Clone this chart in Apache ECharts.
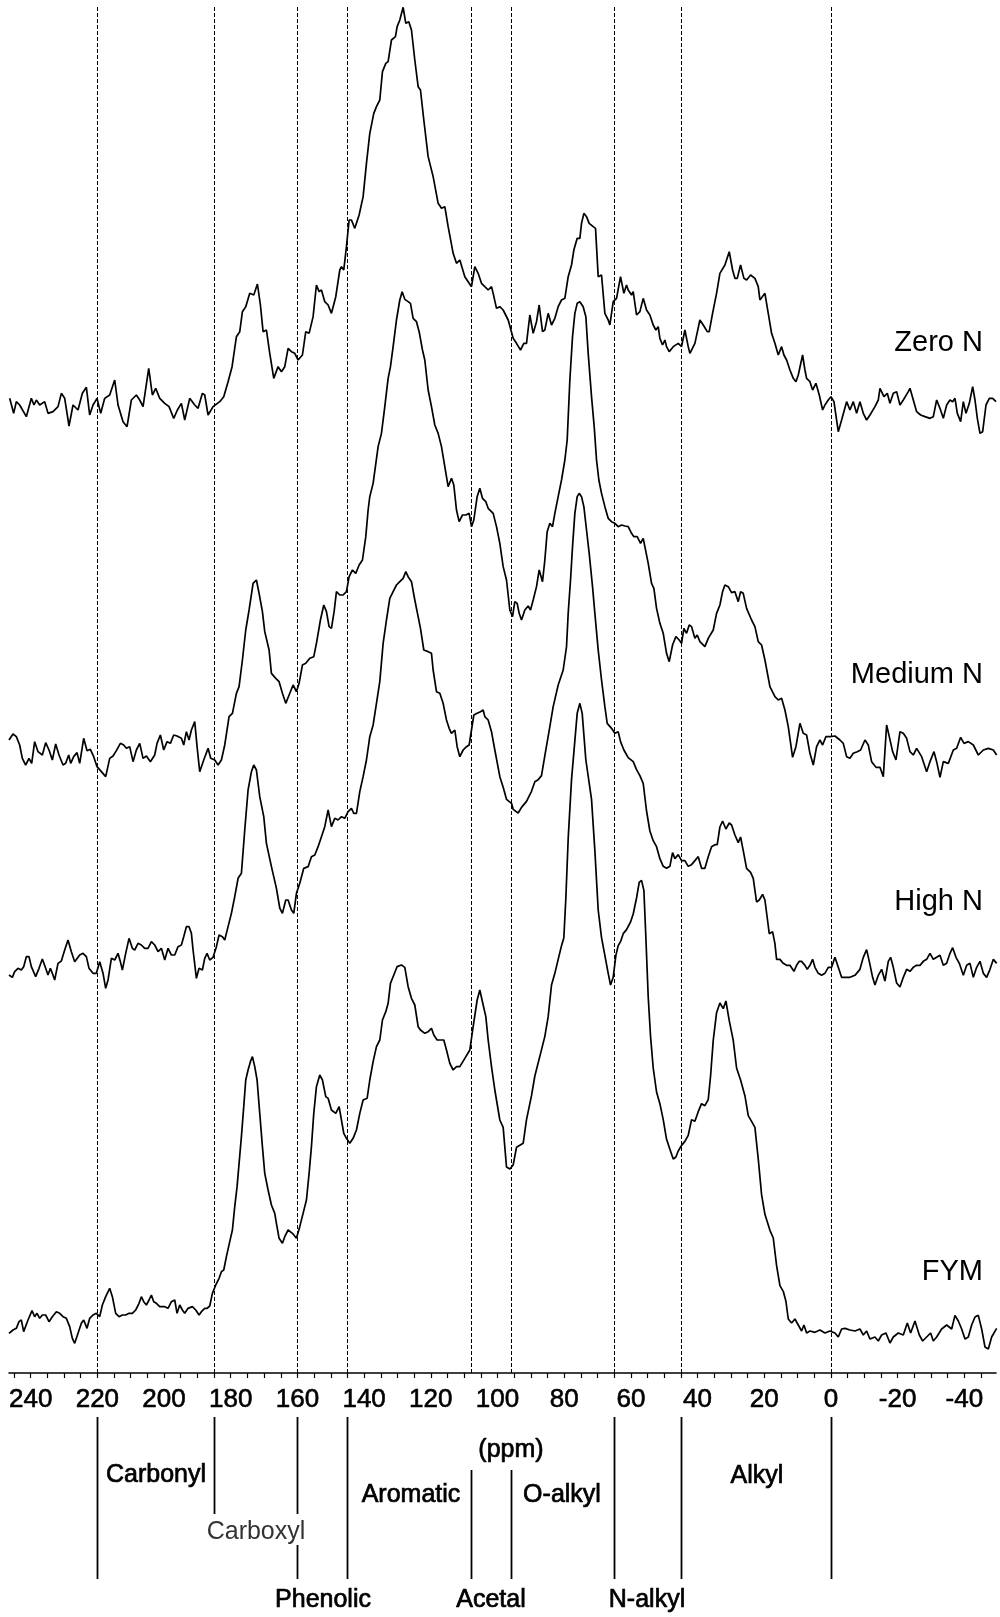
<!DOCTYPE html>
<html><head><meta charset="utf-8">
<script src="https://cdn.jsdelivr.net/npm/echarts@6.0.0/dist/echarts.min.js"></script>
<style>html,body{margin:0;padding:0;background:#fff}#c{width:1000px;height:1617px}</style>
</head><body><div id="c"></div>
<script>
// ---------------- DATA (chemical shift ppm, relative intensity) ----------------
const seriesNames = ['Zero N', 'Medium N', 'High N', 'FYM'];

const zeroN = [[246.3,8],[245.1,-37],[244.3,-2],[243.3,-12],[241.3,-47],[239.8,8],[239.0,-12],[238.3,3],[237.3,-12],[235.8,-2],[234.8,-37],[233.3,-32],[231.8,-17],[230.8,23],[229.8,8],[228.5,-75],[227.3,-12],[225.8,-27],[224.5,23],[223.3,41],[222.3,-42],[221.3,-12],[220.1,8],[219.0,-37],[217.8,8],[216.3,18],[214.8,63],[213.8,-12],[212.3,-62],[211.1,-77],[209.8,3],[208.3,18],[207.3,3],[206.3,-17],[204.6,98],[203.5,18],[202.5,38],[201.3,8],[199.8,-7],[198.5,-17],[197.1,-52],[196.0,-27],[194.8,-7],[193.8,-57],[192.3,8],[190.8,-12],[189.8,-22],[188.5,23],[187.8,18],[186.8,-42],[185.3,-17],[183.3,-2],[182.1,13],[180.8,58],[179.6,103],[178.3,193],[177.3,208],[176.5,268],[175.5,283],[174.3,323],[173.1,318],[172.0,351],[171.1,288],[170.3,208],[169.3,213],[168.3,143],[167.1,68],[165.8,103],[164.8,88],[163.8,103],[162.8,158],[161.8,148],[160.8,143],[159.8,123],[158.5,138],[157.5,208],[156.5,203],[155.3,253],[154.3,348],[153.5,328],[152.8,333],[151.8,298],[150.8,288],[149.8,263],[148.5,313],[147.3,393],[146.8,403],[146.1,393],[145.3,463],[144.5,543],[143.8,543],[142.8,518],[141.5,558],[140.3,613],[139.3,713],[138.3,803],[137.1,863],[136.3,883],[135.3,903],[134.5,988],[133.5,1013],[132.8,1018],[131.8,1083],[130.6,1093],[130.1,1123],[129.3,1143],[128.3,1181],[127.5,1133],[126.6,1138],[125.8,1113],[124.8,1023],[123.8,943],[123.1,933],[122.1,843],[120.8,733],[119.3,673],[117.8,593],[116.8,578],[115.8,583],[114.8,523],[113.3,443],[112.3,413],[111.3,423],[109.8,373],[107.8,343],[106.8,403],[105.8,383],[104.8,353],[103.8,343],[102.8,333],[101.8,343],[101.3,323],[100.3,278],[99.3,283],[98.3,273],[96.8,243],[95.3,188],[94.3,173],[93.1,153],[92.1,173],[91.3,173],[90.3,258],[89.3,203],[88.3,238],[87.5,288],[86.5,208],[85.8,213],[84.8,263],[83.8,228],[82.8,248],[81.8,283],[80.8,303],[79.8,308],[78.8,373],[77.8,408],[77.1,453],[76.1,488],[75.3,488],[74.8,533],[74.1,563],[73.3,553],[72.5,533],[71.3,523],[70.6,518],[69.8,373],[68.8,378],[67.8,263],[66.8,243],[66.3,228],[65.3,298],[64.3,308],[63.1,373],[62.1,323],[61.3,348],[60.8,333],[59.8,318],[59.3,328],[58.3,258],[57.3,268],[56.3,308],[55.3,273],[54.3,258],[53.3,228],[52.5,213],[51.8,223],[51.3,188],[50.5,168],[49.8,183],[49.3,163],[48.5,148],[47.3,163],[45.8,173],[44.8,163],[43.8,213],[42.8,163],[42.3,143],[40.8,173],[39.3,243],[38.3,228],[37.1,208],[36.5,208],[35.5,263],[34.3,323],[33.3,383],[31.8,408],[30.5,448],[29.5,393],[28.8,368],[28.1,368],[27.1,408],[26.1,368],[25.3,363],[24.1,378],[22.8,368],[21.8,343],[21.3,303],[19.8,323],[18.8,263],[17.8,203],[16.8,173],[15.8,138],[14.8,163],[14.1,138],[13.3,123],[12.3,93],[11.3,68],[10.5,58],[9.8,78],[8.5,138],[7.8,93],[7.3,68],[6.3,58],[5.5,33],[4.5,53],[3.5,18],[2.5,-27],[1.8,-12],[0.8,3],[0.0,13],[-0.9,-2],[-2.2,-92],[-3.2,-57],[-4.7,-2],[-5.7,-27],[-6.7,-2],[-7.7,-37],[-8.7,-2],[-9.7,-37],[-10.7,-57],[-11.7,-42],[-13.2,-17],[-14.2,3],[-14.7,38],[-15.9,13],[-16.9,23],[-17.7,-7],[-18.7,23],[-19.7,28],[-20.7,-12],[-21.7,3],[-23.2,28],[-23.7,38],[-24.7,3],[-25.7,-32],[-26.9,-42],[-28.2,-47],[-29.7,-52],[-30.7,-47],[-31.7,3],[-32.7,-22],[-33.7,-52],[-34.7,-12],[-35.7,3],[-36.5,-2],[-37.2,8],[-37.9,-37],[-38.9,-62],[-39.7,-2],[-40.5,-37],[-41.5,-7],[-42.5,43],[-43.2,3],[-43.9,-52],[-44.7,-97],[-45.5,-92],[-46.5,-12],[-47.5,8],[-48.5,8],[-49.5,-2]];

const mediumN = [[246.5,24],[245.3,42],[244.3,34],[243.3,9],[242.5,-31],[241.5,-51],[240.5,-31],[239.7,-46],[238.8,19],[237.8,-11],[237.3,-6],[236.5,-21],[235.5,16],[234.5,-6],[233.5,-36],[232.5,12],[231.5,-21],[230.3,-51],[229.5,-46],[228.6,-21],[228.0,-46],[227.1,-26],[226.1,-14],[225.3,-46],[224.1,29],[223.1,-8],[222.1,-4],[221.1,-26],[220.1,-56],[218.8,-71],[217.5,-86],[216.3,-31],[215.3,-24],[214.3,-8],[213.1,14],[212.1,9],[211.3,-1],[210.3,4],[209.3,-41],[208.3,-6],[207.3,14],[206.3,-31],[205.3,-24],[204.1,-41],[202.8,-21],[202.1,14],[201.1,39],[200.1,-6],[199.1,19],[198.1,14],[197.1,39],[196.1,36],[194.8,29],[194.1,9],[193.3,49],[192.5,24],[191.8,54],[190.8,79],[190.1,4],[189.3,-71],[188.1,-36],[186.8,-1],[186.0,-31],[184.8,-36],[183.8,-51],[182.8,-36],[181.8,9],[180.5,94],[179.5,104],[178.3,164],[177.5,184],[176.5,264],[175.5,354],[174.5,414],[173.3,494],[172.3,504],[171.5,464],[170.5,409],[169.8,349],[168.5,294],[167.8,224],[166.5,209],[165.5,199],[164.5,164],[163.5,134],[162.5,159],[161.3,189],[160.3,169],[159.5,194],[158.5,249],[157.5,254],[156.3,269],[155.1,274],[154.3,314],[153.1,384],[152.1,429],[151.3,409],[150.5,364],[149.8,359],[149.0,409],[148.3,469],[147.3,459],[146.3,459],[145.3,469],[144.5,514],[143.5,534],[142.5,524],[141.5,549],[140.5,564],[139.5,634],[138.8,714],[138.3,754],[137.3,794],[135.8,904],[134.8,944],[133.8,1024],[132.8,1109],[132.1,1144],[131.3,1204],[130.3,1284],[129.3,1344],[128.6,1369],[127.8,1346],[126.8,1339],[126.1,1334],[125.3,1289],[124.3,1279],[123.5,1249],[122.5,1194],[121.8,1164],[120.8,1074],[119.8,1024],[118.8,969],[117.8,944],[116.8,904],[116.3,874],[115.3,814],[114.8,784],[113.8,809],[113.1,789],[112.3,714],[111.5,679],[110.5,699],[109.5,699],[108.5,704],[107.8,664],[107.1,684],[106.1,754],[105.3,779],[104.5,749],[103.5,739],[102.8,719],[101.3,704],[100.3,664],[99.3,614],[98.3,544],[97.3,504],[96.3,414],[95.5,394],[94.8,439],[94.1,434],[93.5,404],[92.8,384],[91.8,414],[90.8,426],[90.1,414],[89.3,444],[88.3,484],[87.5,534],[86.5,499],[85.8,564],[85.1,649],[84.3,674],[83.5,664],[82.8,704],[81.8,754],[80.8,804],[79.8,864],[79.1,924],[78.3,1104],[77.5,1234],[76.8,1304],[76.1,1334],[75.3,1339],[74.3,1324],[73.5,1294],[72.8,1184],[71.8,1054],[71.0,964],[70.3,864],[69.6,804],[68.8,764],[67.8,724],[66.8,689],[65.8,679],[64.8,674],[63.8,664],[62.8,669],[61.8,666],[60.8,664],[59.8,644],[59.1,634],[58.1,634],[57.1,614],[56.3,629],[55.8,604],[54.8,554],[53.8,494],[53.1,479],[52.3,419],[51.3,374],[50.3,344],[49.3,284],[48.5,259],[47.5,309],[46.5,334],[45.5,324],[44.8,314],[44.1,359],[43.3,344],[42.5,369],[41.8,364],[40.8,329],[40.1,339],[39.3,319],[38.8,324],[37.8,304],[36.8,329],[35.3,354],[34.3,404],[33.3,429],[32.5,469],[31.8,489],[30.8,484],[29.8,466],[28.8,469],[27.8,439],[27.1,469],[26.3,464],[25.3,419],[23.8,384],[22.8,364],[21.8,319],[20.8,309],[19.8,264],[18.3,184],[16.8,154],[15.8,144],[14.8,149],[13.8,114],[12.8,64],[11.5,-28],[10.5,4],[9.3,74],[8.3,44],[7.3,39],[6.3,-16],[5.3,-51],[4.3,4],[3.3,24],[2.5,9],[1.5,34],[0.3,34],[-1.2,36],[-2.7,24],[-3.7,14],[-4.7,-26],[-5.7,-31],[-6.7,-16],[-7.9,-11],[-8.9,-6],[-10.2,24],[-11.2,9],[-12.2,-41],[-13.5,-58],[-14.7,-58],[-15.7,-86],[-16.7,69],[-17.5,34],[-18.5,-11],[-19.5,-36],[-20.7,49],[-21.7,44],[-22.7,29],[-23.7,-11],[-24.7,-21],[-25.7,-1],[-27.2,-26],[-28.7,-71],[-29.7,-41],[-30.9,-11],[-31.7,-41],[-32.7,-88],[-33.7,-41],[-35.2,-46],[-36.7,-6],[-37.7,-1],[-38.9,32],[-39.9,14],[-41.2,19],[-42.7,9],[-44.2,-21],[-45.7,-6],[-47.2,-1],[-48.7,-6],[-49.7,-21]];

const highN = [[246.5,-21],[245.5,-28],[244.8,-11],[243.8,-1],[242.8,-6],[242.1,4],[241.3,34],[240.5,34],[239.8,4],[238.5,-26],[237.5,-1],[236.5,27],[235.5,-1],[234.8,-21],[234.1,-1],[233.5,-16],[232.8,-36],[231.8,14],[230.8,21],[229.8,54],[228.8,84],[227.8,49],[226.8,19],[225.3,39],[224.3,44],[223.3,34],[222.5,-1],[221.3,-16],[220.3,-16],[219.3,19],[218.3,-16],[217.5,-61],[216.8,-36],[215.8,29],[214.8,24],[213.8,44],[213.1,19],[212.5,-6],[211.5,44],[210.5,89],[209.5,59],[208.8,54],[207.8,74],[206.8,69],[205.8,59],[204.8,59],[203.8,79],[202.8,69],[201.8,49],[200.8,59],[199.8,24],[198.8,59],[197.8,39],[196.8,39],[195.8,64],[194.8,69],[194.1,94],[193.3,124],[192.5,124],[191.8,104],[191.3,54],[190.3,-31],[189.5,-1],[188.5,-6],[187.8,29],[187.1,44],[186.3,24],[185.3,32],[184.3,64],[183.5,99],[182.5,94],[181.8,84],[180.8,124],[179.8,164],[178.8,214],[177.8,269],[176.8,284],[175.8,414],[174.8,534],[173.8,589],[173.1,609],[172.3,594],[171.3,514],[170.1,454],[169.3,374],[167.8,304],[166.3,239],[165.3,180],[164.5,164],[163.5,204],[162.8,204],[161.8,174],[161.1,164],[160.3,224],[159.3,254],[158.1,299],[156.8,304],[155.8,334],[154.8,339],[153.8,364],[152.8,394],[151.8,424],[150.8,474],[149.8,424],[148.8,449],[147.8,444],[146.8,454],[145.8,449],[144.8,469],[143.8,479],[143.1,464],[142.3,464],[141.3,529],[140.3,574],[139.3,624],[138.3,694],[137.3,729],[136.3,794],[135.3,859],[134.3,974],[133.3,1044],[132.3,1109],[131.3,1129],[130.3,1149],[129.3,1159],[128.3,1169],[127.5,1189],[126.8,1174],[125.8,1159],[124.8,1104],[123.8,1054],[123.1,1019],[122.1,954],[120.8,949],[119.8,944],[119.3,894],[118.3,829],[117.3,824],[116.3,794],[115.3,744],[114.5,719],[113.8,704],[112.8,714],[112.1,664],[111.3,634],[110.3,654],[109.3,664],[108.5,669],[107.8,714],[107.1,759],[106.1,764],[105.1,769],[104.3,774],[103.8,754],[102.8,744],[101.8,709],[100.8,654],[99.3,574],[98.3,542],[97.3,506],[95.8,494],[95.3,476],[93.8,465],[92.8,482],[91.3,500],[89.8,530],[88.8,559],[87.8,565],[86.8,577],[85.8,637],[84.3,724],[83.3,784],[81.8,849],[80.3,894],[79.3,964],[78.8,1064],[78.1,1164],[77.5,1264],[76.8,1364],[76.1,1414],[75.5,1424],[74.8,1414],[74.1,1384],[73.3,1314],[72.5,1244],[71.5,1144],[70.8,1064],[69.8,954],[68.8,864],[67.8,784],[67.1,734],[65.8,719],[64.8,704],[63.8,709],[63.1,679],[62.1,654],[60.8,631],[59.3,619],[58.3,595],[57.3,577],[56.3,554],[55.3,471],[54.3,411],[53.3,382],[52.3,364],[51.3,328],[50.3,305],[49.3,299],[48.3,305],[47.5,346],[46.8,328],[45.8,340],[44.8,322],[43.8,322],[42.8,305],[41.8,310],[40.8,322],[39.8,334],[38.8,299],[37.8,299],[36.8,334],[35.8,364],[34.8,370],[34.1,370],[33.3,423],[32.5,441],[31.5,417],[30.5,435],[29.8,429],[28.8,399],[27.8,376],[27.1,393],[26.3,352],[25.3,299],[24.1,287],[23.3,269],[22.3,198],[21.5,204],[20.5,221],[19.8,204],[19.1,150],[18.5,103],[17.5,109],[16.8,73],[16.3,26],[15.3,26],[14.3,14],[13.3,8],[12.3,8],[11.1,-10],[10.3,8],[9.5,20],[8.8,20],[7.8,8],[7.1,-4],[6.3,8],[5.5,26],[4.8,2],[3.8,-16],[2.8,-22],[1.8,-16],[0.8,2],[-0.2,2],[-1.2,32],[-2.2,2],[-3.2,-28],[-4.2,-28],[-5.7,-28],[-7.2,-22],[-8.7,-4],[-9.7,32],[-10.7,55],[-11.5,20],[-12.5,-28],[-13.2,-51],[-14.2,-22],[-15.2,-4],[-16.2,-39],[-17.2,20],[-17.9,32],[-18.7,2],[-19.7,-45],[-20.7,-57],[-21.7,-28],[-22.7,-4],[-23.7,-10],[-24.7,2],[-25.7,8],[-26.7,8],[-27.7,20],[-28.7,26],[-29.7,44],[-30.7,26],[-31.7,32],[-32.7,38],[-33.7,8],[-34.7,14],[-35.7,44],[-36.5,61],[-37.5,32],[-38.5,14],[-39.7,-22],[-40.7,8],[-41.7,14],[-42.7,-28],[-43.7,2],[-44.7,20],[-45.7,-16],[-46.7,-28],[-47.7,-4],[-48.7,26],[-49.7,14]];

const fym = [[246.5,-10],[245.3,0],[244.3,5],[243.5,25],[242.8,30],[242.1,-5],[240.8,30],[239.6,58],[238.8,40],[238.1,50],[237.3,35],[236.5,45],[235.5,45],[234.5,25],[233.5,40],[232.3,55],[231.3,50],[230.3,40],[229.3,35],[228.3,10],[227.5,-25],[226.8,-40],[225.8,-10],[224.8,20],[224.1,30],[223.1,5],[222.3,35],[221.3,45],[220.3,50],[219.3,40],[218.5,75],[217.5,100],[216.3,125],[215.5,100],[214.5,50],[213.5,40],[212.5,45],[211.5,45],[210.5,50],[209.5,50],[208.5,60],[207.5,80],[206.8,100],[206.1,85],[205.3,75],[204.5,90],[203.8,105],[203.1,85],[202.3,80],[201.3,70],[199.8,70],[198.8,65],[197.8,85],[196.8,90],[196.1,50],[195.3,75],[194.5,60],[193.8,50],[192.8,65],[191.5,70],[190.5,60],[189.5,45],[188.8,55],[187.8,65],[187.1,65],[186.3,72],[185.5,110],[184.5,135],[183.5,155],[182.8,175],[182.1,180],[181.3,220],[180.3,265],[179.5,300],[178.8,370],[178.1,430],[177.5,500],[176.8,580],[176.1,670],[175.5,750],[174.8,780],[174.1,805],[173.5,820],[172.8,790],[172.1,750],[171.3,650],[170.5,550],[169.8,470],[168.8,420],[167.8,375],[166.8,350],[166.3,320],[165.5,275],[164.5,260],[163.8,280],[162.8,300],[161.5,290],[160.3,275],[159.3,310],[158.3,350],[157.3,390],[156.5,470],[155.8,550],[155.1,650],[154.3,730],[153.3,765],[152.5,750],[151.5,700],[150.8,695],[149.8,660],[148.5,650],[147.5,670],[146.8,630],[146.1,590],[145.3,575],[144.3,560],[143.3,575],[142.3,600],[141.3,650],[140.3,690],[139.1,695],[138.3,750],[137.3,805],[136.3,850],[135.3,870],[134.5,930],[133.5,955],[132.8,980],[132.1,1040],[131.1,1065],[130.1,1090],[128.8,1095],[127.8,1088],[126.8,1030],[125.8,995],[124.8,975],[123.8,910],[123.1,900],[121.8,890],[120.8,895],[119.8,905],[119.1,885],[118.1,870],[117.1,870],[116.1,870],[115.3,840],[114.3,800],[113.3,780],[112.3,790],[111.3,790],[109.8,815],[108.3,840],[107.3,910],[106.1,990],[105.3,1020],[104.3,975],[103.5,940],[102.8,870],[101.8,790],[100.8,720],[99.3,630],[98.3,608],[97.3,489],[96.3,483],[95.3,495],[94.3,548],[93.3,554],[92.3,560],[91.3,631],[89.8,703],[88.8,762],[87.3,821],[85.8,881],[84.8,940],[83.8,1035],[82.8,1070],[81.8,1112],[80.8,1153],[80.1,1177],[79.5,1296],[78.8,1474],[77.8,1651],[76.1,1850],[75.3,1880],[74.6,1850],[73.5,1710],[71.8,1592],[70.8,1438],[69.8,1260],[68.8,1177],[67.8,1124],[66.8,1070],[66.1,1035],[65.3,1058],[64.5,1124],[63.8,1153],[63.1,1165],[62.3,1189],[61.3,1201],[60.1,1224],[59.3,1248],[58.3,1296],[57.5,1343],[56.8,1349],[56.1,1319],[55.5,1177],[54.8,999],[54.1,881],[53.3,786],[52.3,714],[51.3,679],[50.3,631],[49.3,572],[48.3,542],[47.3,513],[46.5,519],[45.8,537],[44.8,554],[43.8,566],[42.8,584],[41.8,631],[40.8,626],[39.8,655],[38.8,679],[37.8,673],[36.8,691],[36.1,762],[35.3,869],[34.3,952],[33.3,981],[32.3,964],[31.5,987],[30.5,928],[29.3,869],[28.3,786],[27.1,750],[25.8,703],[24.8,643],[23.8,626],[22.8,608],[21.8,513],[20.8,406],[19.8,347],[18.3,299],[17.3,276],[16.3,193],[15.3,133],[14.3,116],[13.5,86],[12.8,33],[11.8,21],[10.8,33],[9.8,15],[8.8,-3],[8.1,15],[7.3,-9],[6.3,-3],[4.8,-7],[3.3,0],[1.8,-9],[0.3,-3],[-1.2,-9],[-2.2,-21],[-3.2,3],[-4.2,5],[-5.7,0],[-7.2,-3],[-8.7,3],[-9.7,-15],[-10.7,-3],[-11.7,-27],[-13.2,-21],[-14.2,-33],[-15.2,-15],[-16.5,-9],[-17.7,-39],[-18.7,-21],[-20.2,-9],[-21.7,-15],[-22.9,21],[-23.9,-9],[-25.2,27],[-26.5,-15],[-27.5,-33],[-28.7,-21],[-29.9,-9],[-30.7,-33],[-31.7,-21],[-33.2,3],[-34.7,15],[-36.2,3],[-37.2,44],[-38.2,27],[-39.2,3],[-40.2,-27],[-41.2,-21],[-42.2,15],[-43.2,39],[-44.2,44],[-45.2,3],[-46.2,-51],[-47.2,-57],[-48.2,-21],[-49.7,5]];

const tickLabelValues = [240, 220, 200, 180, 160, 140, 120, 100, 80, 60, 40, 20, 0, -20, -40];
const regionBounds = [220, 185, 160, 145, 108, 96, 65, 45, 0];
const axisTitle = '(ppm)';
const regionLabels = ['Carbonyl', 'Carboxyl', 'Phenolic', 'Aromatic', 'Acetal', 'O-alkyl', 'N-alkyl', 'Alkyl'];

// ---------------- LAYOUT ----------------
const FONT = "'Liberation Sans', Arial, Helvetica, sans-serif";
const gridTop = 6, axisY = 1373;
const baselinesPx = [401, 748, 968, 1330];   // baseline pixel row of each trace
const unitsPerPx = 3;
const xMin = -49.5, xMax = 246.5;
const minorTicks = [];
for (let v = 245; v >= -45; v -= 5) minorTicks.push(v);

const allSeries = [zeroN, mediumN, highN, fym];

const chart = echarts.init(document.getElementById('c'), null, {renderer: 'canvas'});

const yAxes = baselinesPx.map(b => ({
  type: 'value', show: false, gridIndex: 0,
  min: -(axisY - b) * unitsPerPx, max: (b - gridTop) * unitsPerPx
}));

const series = allSeries.map((d, i) => ({
  name: seriesNames[i], type: 'line', xAxisIndex: 0, yAxisIndex: i,
  data: d, showSymbol: false, symbol: 'none', smooth: false, clip: false,
  lineStyle: {color: '#000', width: 1.7}, silent: true,
  markLine: i === 0 ? {
    silent: true, symbol: ['none', 'none'], label: {show: false},
    lineStyle: {color: '#000', width: 1, type: [4, 2]},
    data: regionBounds.map(v => ({xAxis: v}))
  } : undefined
}));

chart.setOption({
  animation: false,
  backgroundColor: '#fff',
  grid: {left: 9, right: 4, top: gridTop, height: axisY - gridTop, containLabel: false},
  xAxis: {
    type: 'value', inverse: true, min: xMin, max: xMax,
    axisLine: {onZero: false, lineStyle: {color: '#000', width: 1.6}},
    axisTick: {customValues: minorTicks, length: 5, lineStyle: {color: '#000', width: 1.2}},
    axisLabel: {customValues: tickLabelValues, fontSize: 26, color: '#000', margin: 14, fontFamily: FONT,
                textBorderColor: '#000', textBorderWidth: 0.6},
    splitLine: {show: false}
  },
  yAxis: yAxes,
  series: series
});

// annotation band under the axis (region boundary lines and labels)
const px = v => chart.convertToPixel({xAxisIndex: 0}, v);
const segs = [
  [regionBounds[0], 1417, 1579], [regionBounds[1], 1417, 1514],
  [regionBounds[2], 1417, 1514], [regionBounds[2], 1545, 1579],
  [regionBounds[3], 1417, 1579], [regionBounds[4], 1470, 1579],
  [regionBounds[5], 1470, 1579], [regionBounds[6], 1417, 1579],
  [regionBounds[7], 1417, 1579], [regionBounds[8], 1417, 1579]
];
const graphics = segs.map(s => ({
  type: 'line', silent: true,
  shape: {x1: Math.round(px(s[0])) + 0.5, y1: s[1], x2: Math.round(px(s[0])) + 0.5, y2: s[2]},
  style: {stroke: '#000', lineWidth: 1.8}
}));
const txt = (t, x, y, size, color, bold) => ({
  type: 'text', silent: true, x: x, y: y,
  style: {text: t, fill: color || '#000', font: size + 'px ' + FONT, textAlign: 'center', textVerticalAlign: 'middle',
          stroke: bold ? (color || '#000') : null, lineWidth: bold ? 0.7 : 0}
});
graphics.push(
  txt(regionLabels[0], 156, 1475, 25, '#000', true),
  txt(regionLabels[1], 256, 1532, 25, '#333', false),
  txt(regionLabels[2], 323, 1600, 25, '#000', true),
  txt(regionLabels[3], 411, 1495, 25, '#000', true),
  txt(regionLabels[4], 491, 1600, 25, '#000', true),
  txt(regionLabels[5], 562, 1495, 25, '#000', true),
  txt(regionLabels[6], 647, 1600, 25, '#000', true),
  txt(regionLabels[7], 757, 1476, 25, '#000', true),
  txt(axisTitle, 511, 1450, 25, '#000', true)
);
// trace names on the right
const nameY = [343, 675, 902, 1272];
seriesNames.forEach((n, i) => graphics.push({
  type: 'text', silent: true, x: 983, y: nameY[i],
  style: {text: n, fill: '#000', font: '29px ' + FONT, textAlign: 'right', textVerticalAlign: 'middle'}
}));
chart.setOption({graphic: graphics});
</script>
</body></html>
